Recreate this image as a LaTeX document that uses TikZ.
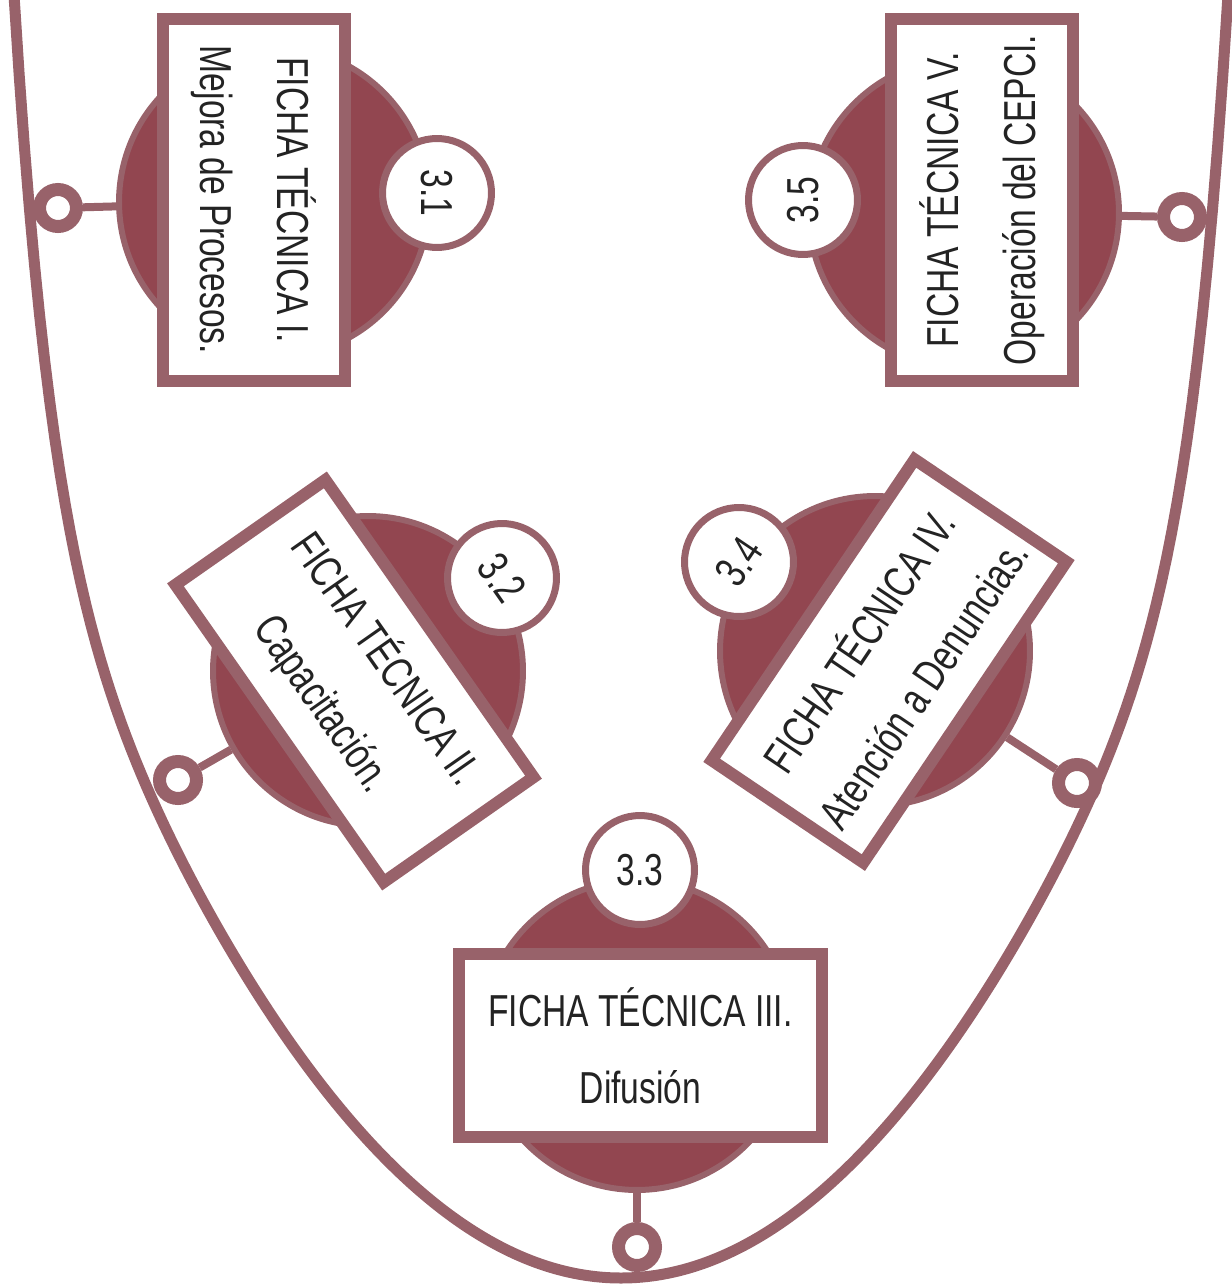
\documentclass[tikz,border=0pt]{standalone}
\usepackage{fontspec}
\setmainfont{Liberation Sans}[FakeStretch=0.75]
\definecolor{rimcol}{RGB}{152,98,106}
\definecolor{diskcol}{RGB}{146,70,80}
\definecolor{inkcol}{RGB}{35,35,35}
\tikzset{
  ficha/.style={draw=rimcol, line width=0.24cm, fill=white, minimum width=7.26cm,
    minimum height=3.66cm, inner sep=0pt, align=center, text=inkcol,
    font=\fontsize{25.5}{44}\selectfont},
  disco/.style={circle, draw=rimcol, fill=diskcol, line width=0.12cm, minimum size=6.2cm, inner sep=0pt},
  numero/.style={circle, draw=rimcol, fill=white, line width=0.14cm, minimum size=2.18cm,
    inner sep=0pt, text=inkcol, font=\fontsize{25.5}{30}\selectfont},
  anillo/.style={circle, draw=rimcol, fill=white, line width=0.26cm, minimum size=0.74cm, inner sep=0pt},
  enlace/.style={draw=rimcol, line width=0.16cm}
}
\begin{document}
\begin{tikzpicture}[x=0.02cm, y=-0.02cm]
    \useasboundingbox (0,0) rectangle (1231,1288);
    % Draw the U shaped line
    \draw[rimcol, line width=0.22cm] plot[domain=-612:612, samples=241, variable=\t]
      ({621+\t}, {1278-21.5*(\t/100)*(\t/100)-491*(abs(\t)/607)^17});
    % Draw the five sheets: ring, disk, box and number
    \foreach \i/\lab/\ang/\bx/\by/\dx/\dy/\sx/\sy/\gx/\gy/\la/\lb in {
      1/3.1/-90/254/200/274/202/437/193/58/208/FICHA TÉCNICA I./Mejora de Procesos.,
      2/3.2/-55/354.5/681/368/671/502/578/178/780/FICHA TÉCNICA II./Capacitación.,
      3/3.3/0/640.5/1045.5/637/1035/640/870/637/1247/FICHA TÉCNICA III./Difusión,
      4/3.4/56/889/661/875/651/739/562/1077/783/FICHA TÉCNICA IV./Atención a Denuncias.,
      5/3.5/90/982/200/964/213/803/200/1182/217/FICHA TÉCNICA V./Operación del CEPCI.}{
      \node[anillo] (r\i) at (\gx,\gy) {};
      \node[disco] (d\i) at (\dx,\dy) {};
      \draw[enlace] (r\i) -- (d\i);
      \node[ficha, rotate=\ang] (f\i) at (\bx,\by) {\la\\\lb};
      \node[numero, rotate=\ang] (n\i) at (\sx,\sy) {\lab};
    }
\end{tikzpicture}
\end{document}
